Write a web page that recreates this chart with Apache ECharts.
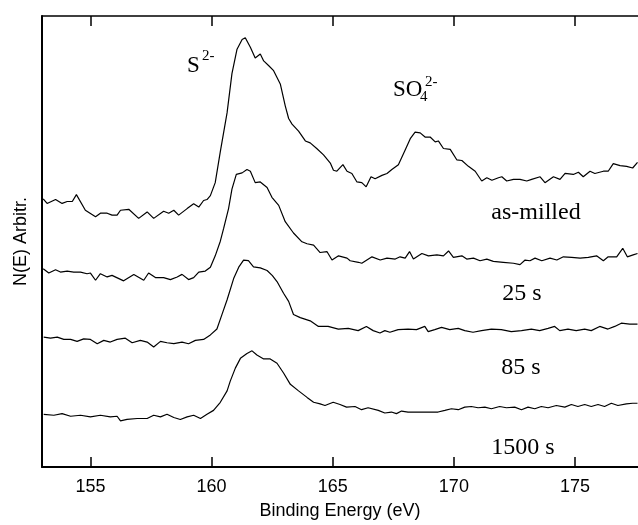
<!DOCTYPE html>
<html><head><meta charset="utf-8">
<script src="https://cdn.jsdelivr.net/npm/echarts@6/dist/echarts.min.js"></script>
<style>html,body{margin:0;padding:0;background:#fff}#c{width:638px;height:525px}</style>
</head><body><div id="c"></div>
<script>
// Binding energy (eV) vs N(E) (arbitrary units, spectra offset vertically)
var xTicks = [155, 160, 165, 170, 175];
var seriesNames = ['as-milled', '25 s', '85 s', '1500 s'];
var asMilled = [
[153.05,27.47],[153.21,27.0],[153.56,27.4],[153.83,27.0],[154.04,27.2],[154.25,27.2],[154.42,27.9],[154.79,26.3],[155.21,25.63],[155.41,26.0],[155.69,26.0],[155.89,25.8],[156.10,25.8],[156.24,26.3],[156.58,26.4],[156.99,25.47],[157.34,26.13],[157.61,25.47],[158.02,26.2],[158.23,26.0],[158.44,26.3],[158.64,25.8],[158.99,26.47],[159.26,26.97],[159.47,26.63],[159.67,27.3],[159.81,27.4],[159.95,27.8],[160.15,29.13],[160.36,32.3],[160.64,36.3],[160.84,40.3],[161.05,42.8],[161.26,43.8],[161.39,43.97],[161.60,43.0],[161.80,41.9],[162.01,42.3],[162.15,41.6],[162.35,41.13],[162.56,40.6],[162.84,39.2],[163.04,37.0],[163.18,35.7],[163.32,35.13],[163.59,34.4],[163.87,33.4],[164.07,33.2],[164.35,32.6],[164.62,31.97],[164.90,31.13],[165.03,30.4],[165.17,30.3],[165.42,30.97],[165.59,30.3],[165.79,30.07],[166.00,29.2],[166.20,29.13],[166.38,28.7],[166.58,29.73],[166.75,29.53],[167.03,29.87],[167.24,30.07],[167.44,30.47],[167.71,30.97],[167.99,32.47],[168.20,33.63],[168.40,34.3],[168.61,34.23],[168.81,33.8],[169.02,33.8],[169.23,33.3],[169.36,33.4],[169.57,32.63],[169.85,32.53],[170.12,31.47],[170.33,31.4],[170.60,30.8],[170.88,30.3],[171.15,29.3],[171.36,29.63],[171.57,29.37],[171.84,29.63],[171.98,29.73],[172.18,29.3],[172.46,29.47],[172.73,29.47],[173.01,29.3],[173.21,29.47],[173.56,29.73],[173.76,29.13],[174.11,29.73],[174.38,29.47],[174.59,30.07],[174.93,29.97],[175.14,30.2],[175.34,29.73],[175.62,30.3],[175.82,30.07],[176.17,30.3],[176.37,30.3],[176.58,31.07],[176.86,30.87],[177.13,30.8],[177.38,30.63],[177.58,31.2]
];
var s25 = [
[153.05,20.3],[153.28,19.87],[153.56,20.2],[153.76,19.97],[154.04,20.07],[154.31,19.97],[154.59,19.97],[154.86,19.8],[155.00,19.87],[155.21,19.13],[155.41,19.8],[155.69,19.47],[155.89,19.63],[156.37,19.07],[156.79,19.73],[157.20,19.13],[157.40,19.87],[157.68,19.4],[158.02,19.4],[158.30,19.2],[158.58,19.47],[158.78,19.73],[159.05,19.2],[159.26,19.4],[159.47,19.97],[159.74,20.07],[159.95,20.47],[160.15,21.63],[160.36,23.13],[160.50,24.47],[160.70,26.47],[160.84,28.47],[161.02,29.97],[161.26,30.13],[161.46,30.47],[161.60,30.3],[161.80,29.13],[162.01,29.2],[162.29,28.63],[162.49,27.63],[162.77,26.8],[163.04,25.13],[163.38,23.97],[163.73,23.07],[163.94,22.87],[164.21,22.73],[164.48,21.97],[164.76,22.07],[164.97,21.2],[165.24,21.63],[165.59,21.4],[165.72,21.13],[166.06,20.97],[166.20,20.87],[166.62,21.53],[166.96,21.2],[167.24,21.4],[167.58,21.3],[167.78,21.53],[167.99,21.4],[168.17,22.07],[168.33,21.3],[168.68,21.87],[168.95,21.63],[169.30,21.73],[169.57,21.63],[169.78,22.13],[169.98,21.47],[170.33,21.63],[170.53,21.3],[170.81,21.4],[171.08,21.13],[171.36,21.3],[171.63,21.07],[172.04,20.97],[172.46,20.87],[172.73,20.73],[172.94,21.2],[173.14,21.13],[173.35,21.4],[173.63,21.13],[173.97,21.4],[174.25,21.2],[174.52,21.53],[174.86,21.47],[175.21,21.4],[175.55,21.47],[175.89,21.63],[176.17,21.13],[176.37,21.53],[176.72,21.53],[176.97,22.4],[177.16,21.53],[177.40,21.73],[177.58,21.87]
];
var s85 = [
[153.07,13.3],[153.35,13.2],[153.63,13.3],[153.90,13.07],[154.18,13.07],[154.45,12.87],[154.72,13.13],[155.00,13.07],[155.28,12.63],[155.55,12.97],[155.82,12.8],[156.10,13.07],[156.44,13.2],[156.72,12.73],[157.06,12.97],[157.34,12.8],[157.61,12.3],[157.89,12.87],[158.16,12.73],[158.44,12.63],[158.78,12.8],[159.05,12.63],[159.33,12.97],[159.67,13.07],[159.95,13.53],[160.22,14.13],[160.43,15.63],[160.64,17.13],[160.91,19.3],[161.12,20.47],[161.32,21.2],[161.52,21.15],[161.73,20.5],[162.01,20.4],[162.29,20.13],[162.51,19.6],[162.70,19.0],[162.97,17.8],[163.18,16.97],[163.38,15.63],[163.66,15.3],[164.07,14.97],[164.41,14.4],[164.81,14.4],[165.23,14.13],[165.64,14.2],[166.05,13.97],[166.39,14.4],[166.67,13.97],[166.95,13.73],[167.15,13.97],[167.36,13.8],[167.70,14.07],[168.11,14.13],[168.46,14.07],[168.80,14.4],[168.94,13.87],[169.21,14.07],[169.49,14.3],[169.83,14.07],[170.18,14.2],[170.45,13.97],[170.79,13.8],[171.14,13.97],[171.55,14.13],[171.96,14.07],[172.37,13.87],[172.79,13.97],[173.20,14.13],[173.54,13.97],[173.89,14.2],[174.16,14.4],[174.37,13.97],[174.71,14.13],[175.05,13.97],[175.40,14.13],[175.67,13.97],[176.02,14.4],[176.36,14.13],[176.64,14.4],[176.91,14.73],[177.26,14.63],[177.58,14.63]
];
var s1500 = [
[153.07,5.4],[153.49,5.3],[153.83,5.47],[154.18,5.2],[154.59,5.3],[155.00,5.13],[155.41,5.3],[155.82,5.13],[156.10,5.2],[156.24,4.73],[156.51,4.87],[156.93,4.97],[157.34,4.97],[157.61,5.3],[157.89,5.13],[158.16,5.4],[158.44,5.07],[158.71,4.87],[158.99,5.13],[159.26,5.3],[159.54,4.97],[159.81,5.4],[160.08,5.8],[160.36,6.63],[160.64,7.8],[160.77,8.8],[160.98,10.13],[161.19,11.13],[161.46,11.63],[161.67,11.9],[161.87,11.47],[162.15,11.07],[162.42,11.07],[162.70,10.63],[162.97,9.63],[163.25,8.47],[163.59,7.8],[163.94,7.13],[164.21,6.63],[164.48,6.47],[164.68,6.3],[165.02,6.63],[165.30,6.4],[165.57,6.13],[165.92,6.2],[166.19,5.87],[166.46,6.07],[166.88,5.8],[167.15,5.53],[167.42,5.63],[167.63,5.47],[167.84,5.73],[168.11,5.63],[168.53,5.63],[168.94,5.63],[169.35,5.63],[169.63,5.8],[169.90,5.97],[170.18,5.87],[170.45,6.13],[170.72,6.2],[171.00,6.07],[171.28,6.13],[171.55,5.97],[171.89,6.2],[172.17,6.07],[172.51,6.13],[172.79,5.87],[173.06,6.13],[173.34,5.97],[173.61,6.2],[173.89,6.07],[174.23,6.3],[174.58,6.13],[174.85,6.4],[175.12,6.2],[175.40,6.4],[175.67,6.2],[175.95,6.4],[176.22,6.2],[176.50,6.53],[176.77,6.3],[177.12,6.47],[177.38,6.53],[177.58,6.53]
];
var seriesData = [asMilled, s25, s85, s1500];

var chart = echarts.init(document.getElementById('c'), null, {renderer: 'canvas'});
var SANS = '"Liberation Sans", Arial, sans-serif';
var SERIF = '"Liberation Serif", "Times New Roman", serif';
var xMin = 153, xMax = 177.6;

function serifText(str, x, y, size, align) {
  return {type: 'text', x: x, y: y, silent: true,
    style: {text: str, fill: '#000', font: size + 'px ' + SERIF, align: align || 'left', verticalAlign: 'middle'}};
}

chart.setOption({
  animation: false,
  backgroundColor: '#fff',
  grid: {left: 42, right: 0, top: 16, bottom: 47, containLabel: false},
  xAxis: [{
    type: 'value', position: 'bottom', min: xMin, max: xMax,
    name: 'Binding Energy (eV)', nameLocation: 'middle', nameGap: 35,
    nameTextStyle: {color: '#000', fontFamily: SANS, fontSize: 18},
    axisLine: {show: true, onZero: false, lineStyle: {color: '#000', width: 2}},
    axisTick: {show: true, inside: true, length: 10, customValues: xTicks, lineStyle: {color: '#000', width: 1.5}},
    axisLabel: {show: true, margin: 11, customValues: xTicks, color: '#000', fontFamily: SANS, fontSize: 18},
    splitLine: {show: false}
  }, {
    type: 'value', position: 'top', min: xMin, max: xMax,
    axisLine: {show: true, onZero: false, lineStyle: {color: '#000', width: 1.5}},
    axisTick: {show: true, inside: true, length: 10, customValues: xTicks, lineStyle: {color: '#000', width: 1.5}},
    axisLabel: {show: false},
    splitLine: {show: false}
  }],
  yAxis: {
    type: 'value', min: 0, max: 46.2,
    name: 'N(E) Arbitr.', nameLocation: 'middle', nameGap: 12, nameRotate: 90,
    nameTextStyle: {color: '#000', fontFamily: SANS, fontSize: 18},
    axisLine: {show: true, onZero: false, lineStyle: {color: '#000', width: 2}},
    axisTick: {show: false}, axisLabel: {show: false}, splitLine: {show: false}
  },
  series: seriesData.map(function (d, i) {
    return {name: seriesNames[i], type: 'line', data: d, showSymbol: false, symbol: 'none',
      lineStyle: {color: '#000', width: 1.2}, clip: true};
  }),
  graphic: [
    serifText('S', 187, 66, 23),
    serifText('2-', 202, 56, 15),
    serifText('SO', 393, 90, 23),
    serifText('4', 420, 97, 15),
    serifText('2-', 425, 82, 15),
    serifText('as-milled', 536, 213, 24, 'center'),
    serifText('25 s', 522, 294, 24, 'center'),
    serifText('85 s', 521, 368, 24, 'center'),
    serifText('1500 s', 523, 448, 24, 'center')
  ]
});
</script></body></html>
